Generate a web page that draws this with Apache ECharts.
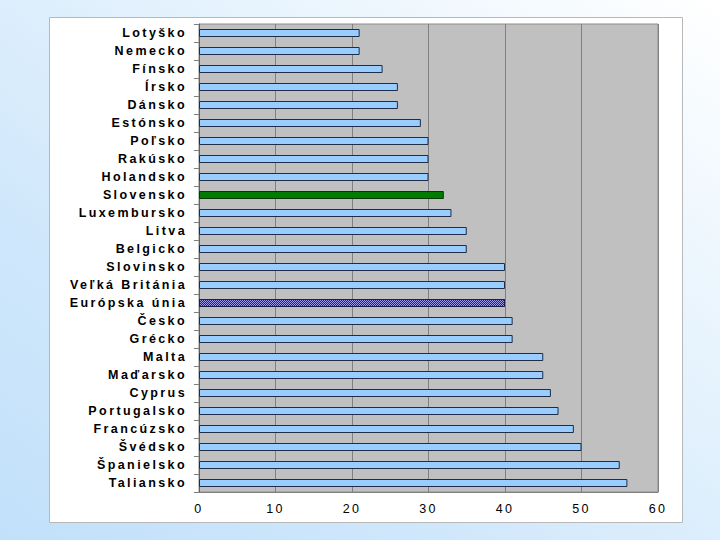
<!DOCTYPE html>
<html>
<head>
<meta charset="utf-8">
<script src="https://cdn.jsdelivr.net/npm/echarts@6/dist/echarts.min.js"></script>
<style>
  html, body { margin: 0; padding: 0; }
  body { width: 720px; height: 540px; background: linear-gradient(to bottom left, #ffffff 0%, #e6f3fd 35%, #cfe7fb 70%, #c2e0fa 100%); }
  #chart { width: 720px; height: 540px; }
  #chart svg text { letter-spacing: 2.4px; }
</style>
</head>
<body>
<div id="chart"></div>
<script>
const categories = ["Lotyško","Nemecko","Fínsko","Írsko","Dánsko","Estónsko","Poľsko","Rakúsko","Holandsko","Slovensko","Luxembursko","Litva","Belgicko","Slovinsko","Veľká Británia","Európska únia","Česko","Grécko","Malta","Maďarsko","Cyprus","Portugalsko","Francúzsko","Švédsko","Španielsko","Taliansko"];
const values = [21,21,24,26,26,29,30,30,30,32,33,35,35,40,40,40,41,41,45,45,46,47,49,50,55,56];
const xTicks = [0,10,20,30,40,50,60];

const highlight = { "Slovensko": "green", "Európska únia": "eu" };

const chart = echarts.init(document.getElementById('chart'), null, { renderer: 'svg' });

const data = categories.map((c, i) => {
  const kind = highlight[c];
  if (kind === 'green') {
    return { value: values[i], itemStyle: { color: '#007a00', borderColor: '#003a00' } };
  }
  if (kind === 'eu') {
    return { value: values[i], itemStyle: {
      color: '#9c9ce6', borderColor: '#1c1c50',
      decal: { symbol: 'rect', symbolSize: 1, color: '#22226a', dashArrayX: [[1,1],[0,1,1,0]], dashArrayY: [1,0], rotation: 0 }
    } };
  }
  return values[i];
});

chart.setOption({
  animation: false,
  backgroundColor: 'transparent',
  graphic: [{
    type: 'rect', z: -10, silent: true,
    shape: { x: 49.5, y: 17.5, width: 633, height: 505 },
    style: { fill: '#ffffff', stroke: '#b8b8b8', lineWidth: 1 }
  }],
  grid: {
    left: 199, right: 62, top: 24, bottom: 48,
    show: true, backgroundColor: '#c0c0c0', borderColor: '#8c8c8c', borderWidth: 1
  },
  xAxis: {
    type: 'value', min: xTicks[0], max: xTicks[xTicks.length - 1], interval: 10,
    axisLine: { show: true, lineStyle: { color: '#808080', width: 1 } },
    axisTick: { show: false },
    splitLine: { show: true, lineStyle: { color: '#808080', width: 1 } },
    axisLabel: { color: '#000', fontFamily: 'Liberation Sans, Arial, sans-serif', fontSize: 12.5, margin: 10 }
  },
  yAxis: {
    type: 'category', data: categories, inverse: true,
    axisLine: { show: true, lineStyle: { color: '#606060', width: 1 } },
    axisTick: { show: true, length: 5, lineStyle: { color: '#808080' } },
    axisLabel: { color: '#000', fontFamily: 'Liberation Sans, Arial, sans-serif', fontSize: 12.5, fontWeight: 'bold', margin: 12 }
  },
  series: [{
    type: 'bar', data: data, barWidth: 8,
    itemStyle: { color: '#99ccff', borderColor: '#1e2c46', borderWidth: 1 }
  }]
});
</script>
</body>
</html>
